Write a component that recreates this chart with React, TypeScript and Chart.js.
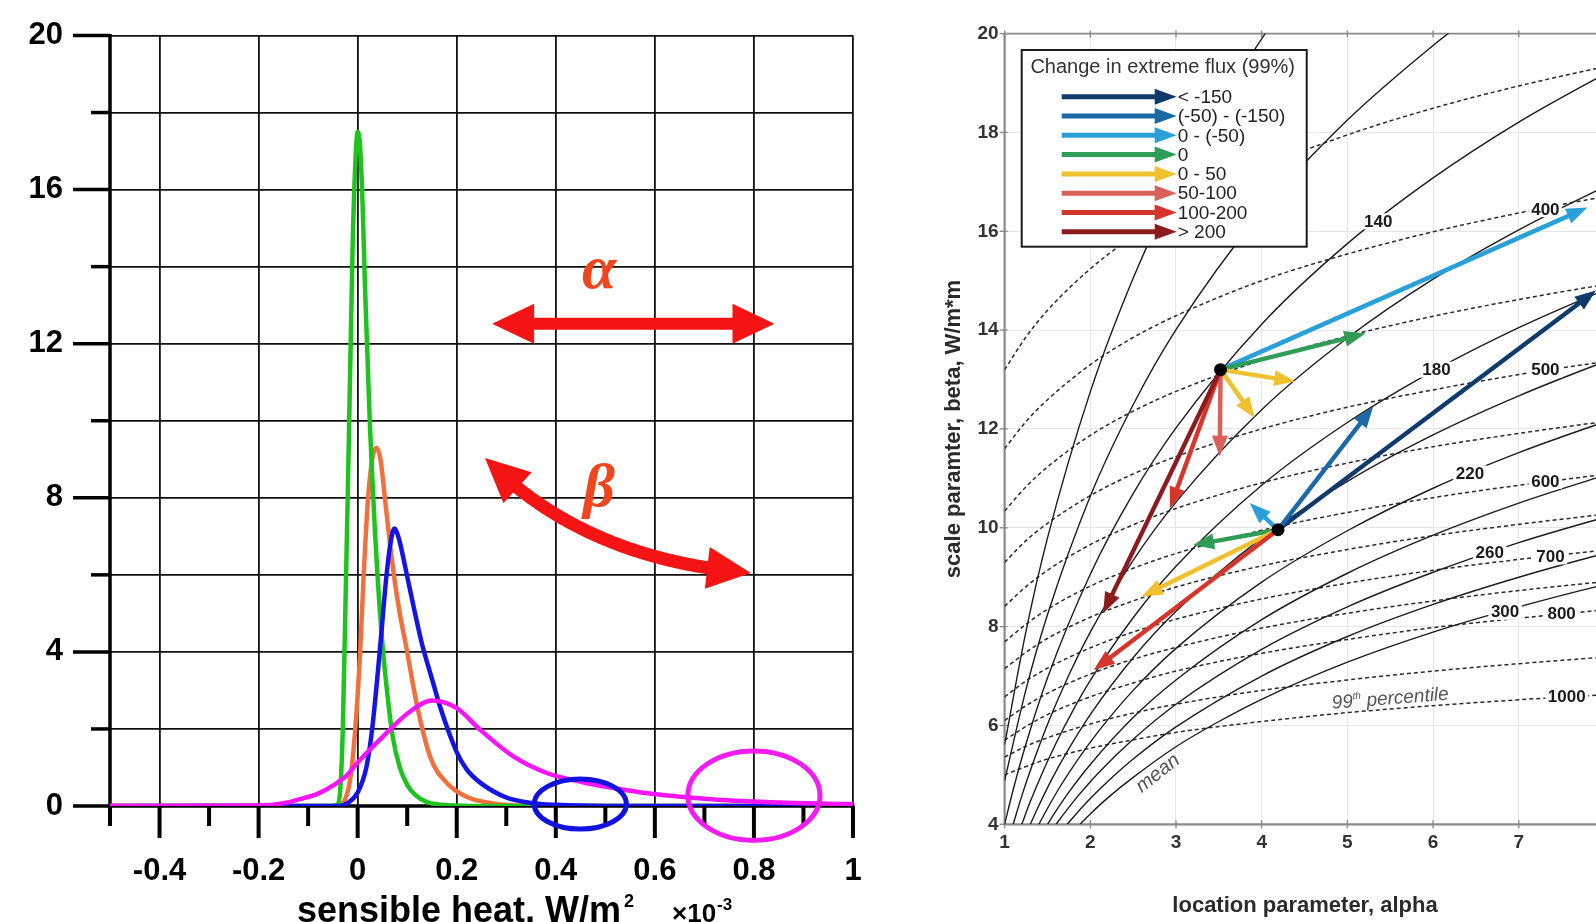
import React, { useEffect, useRef } from 'react';
import { Chart, registerables } from 'chart.js';

Chart.register(...registerables);

const SANS = '"Liberation Sans", Arial, Helvetica, sans-serif';
const SERIF = '"Liberation Serif", "Times New Roman", serif';

/* ================= LEFT PANEL: densities of sensible heat ================= */
const LEFT_X_TICKS = [-0.5, -0.4, -0.3, -0.2, -0.1, 0, 0.1, 0.2, 0.3, 0.4, 0.5, 0.6, 0.7, 0.8, 0.9, 1.0];
const LEFT_Y_TICKS = [0, 2, 4, 6, 8, 10, 12, 14, 16, 18, 20];

const GREEN_X = [-0.5, -0.06, -0.04, -0.035, -0.03, -0.025, -0.02, -0.015, -0.01, -0.005, 0, 0.005, 0.01, 0.015, 0.02, 0.025, 0.03, 0.035, 0.04, 0.05, 0.06, 0.07, 0.085, 0.1, 0.115, 0.14, 0.18, 0.25, 1.0];
const GREEN_Y = [0, 0, 0.05, 0.45, 2.0, 5.0, 8.1, 11.4, 14.6, 16.6, 17.5, 17.1, 15.6, 13.4, 11.6, 9.8, 8.4, 7.1, 6.0, 4.2, 2.9, 1.85, 1.0, 0.55, 0.3, 0.1, 0.02, 0, 0];

const ORANGE_X = [-0.5, -0.04, -0.028, -0.015, -0.005, 0.005, 0.012, 0.021, 0.03, 0.038, 0.046, 0.055, 0.064, 0.0735, 0.085, 0.097, 0.12, 0.147, 0.18, 0.22, 0.27, 0.32, 0.4, 1.0];
const ORANGE_Y = [0, 0, 0.1, 0.7, 1.97, 3.99, 5.96, 7.99, 9.05, 9.3, 9.0, 7.99, 6.95, 5.96, 5.0, 4.2, 2.6, 1.25, 0.6, 0.24, 0.07, 0.01, 0, 0];

const BLUE_X = [-0.5, -0.035, -0.02, 0, 0.0175, 0.029, 0.0444, 0.058, 0.066, 0.074, 0.083, 0.092, 0.101, 0.115, 0.13, 0.15, 0.167, 0.2, 0.22, 0.248, 0.3, 0.35, 0.4, 0.5, 1.0];
const BLUE_Y = [0, 0, 0.08, 0.35, 1.0, 1.97, 3.99, 5.96, 6.8, 7.2, 6.95, 6.45, 5.9, 5.05, 4.2, 3.3, 2.55, 1.4, 0.95, 0.6, 0.22, 0.08, 0.03, 0, 0];

const MAGENTA_X = [-0.5, -0.2, -0.15, -0.116, -0.08, -0.0486, -0.02, 0, 0.05, 0.1045, 0.15, 0.2, 0.248, 0.315, 0.383, 0.45, 0.52, 0.585, 0.72, 0.854, 1.0];
const MAGENTA_Y = [0, 0.01, 0.07, 0.18, 0.32, 0.54, 0.82, 1.13, 1.79, 2.44, 2.74, 2.54, 1.97, 1.28, 0.85, 0.63, 0.46, 0.33, 0.17, 0.09, 0.05];

/* annotations of the left panel (data coordinates) */
const TAIL_ELLIPSE_CX = [0.4495, 0.8];
const TAIL_ELLIPSE_CY = [0.05, 0.27];
const TAIL_ELLIPSE_RX = [0.093, 0.1334];
const TAIL_ELLIPSE_RY = [0.65, 1.16];
const TAIL_ELLIPSE_COLOR = ['#1212e0', '#f01cf0'];
const ALPHA_ARROW_START = [0.2714, 12.52];
const ALPHA_ARROW_END = [0.8415, 12.52];
const BETA_ARROW_START = [0.257, 9.03];
const BETA_ARROW_CTRL = [0.4557, 6.4];
const BETA_ARROW_END = [0.794, 6.05];
const ALPHA_TEXT_POS = [0.4875, 13.85];
const BETA_TEXT_POS = [0.4875, 8.2];

/* ================= RIGHT PANEL: parameter space ================= */
const R_X_TICKS = [1, 2, 3, 4, 5, 6, 7, 8];
const R_Y_TICKS = [4, 6, 8, 10, 12, 14, 16, 18, 20];

// mean iso-lines (solid)
const MEAN_100_A = [1, 1.25, 1.5, 2, 2.5, 3, 3.5, 4.04, 4.3];
const MEAN_100_B = [5.61, 7.91, 9.79, 12.75, 15.05, 16.93, 18.52, 20.0, 20.64];
const MEAN_120_A = [1, 1.25, 1.5, 2, 2.5, 3, 4, 5, 6, 6.5];
const MEAN_120_B = [4.88, 6.73, 8.24, 10.64, 12.49, 14.01, 16.4, 18.25, 19.76, 20.43];
const MEAN_140_A = [1, 1.1, 1.25, 1.5, 2, 2.5, 3, 4, 5, 6, 7, 8, 8.3];
const MEAN_140_B = [4, 4.7, 5.63, 6.96, 9.06, 10.69, 12.02, 14.12, 15.75, 17.08, 18.21, 19.18, 19.45];
const MEAN_160_A = [1.1, 1.2, 1.35, 1.5, 1.75, 2, 2.5, 3, 4, 5, 6, 7, 8, 8.3];
const MEAN_160_B = [4, 4.57, 5.33, 6.02, 7.02, 7.89, 9.34, 10.52, 12.39, 13.84, 15.03, 16.03, 16.9, 17.14];
const MEAN_180_A = [1.2, 1.3, 1.45, 1.6, 1.8, 2, 2.5, 3, 4, 5, 6, 7, 8, 8.3];
const MEAN_180_B = [4, 4.46, 5.08, 5.64, 6.31, 6.91, 8.18, 9.22, 10.86, 12.13, 13.17, 14.05, 14.81, 15.02];
const MEAN_200_A = [1.3, 1.4, 1.55, 1.75, 2, 2.5, 3, 4, 5, 6, 7, 8, 8.3];
const MEAN_200_B = [4, 4.38, 4.91, 5.53, 6.22, 7.37, 8.31, 9.79, 10.94, 11.88, 12.67, 13.36, 13.55];
const MEAN_220_A = [1.4, 1.5, 1.65, 1.85, 2.1, 2.5, 3, 4, 5, 6, 7, 8, 8.3];
const MEAN_220_B = [4, 4.32, 4.77, 5.3, 5.89, 6.71, 7.56, 8.9, 9.94, 10.8, 11.52, 12.14, 12.31];
const MEAN_240_A = [1.5, 1.6, 1.75, 2, 2.5, 3, 4, 5, 6, 7, 8, 8.3];
const MEAN_240_B = [4, 4.27, 4.65, 5.21, 6.16, 6.92, 8.14, 9.08, 9.85, 10.5, 11.06, 11.22];
const MEAN_260_A = [1.6, 1.7, 1.85, 2.1, 2.5, 3, 4, 5, 6, 7, 8, 8.3];
const MEAN_260_B = [4, 4.23, 4.56, 5.05, 5.72, 6.43, 7.54, 8.4, 9.1, 9.7, 10.21, 10.35];
const MEAN_280_A = [1.73, 1.83, 2, 2.25, 2.5, 3, 4, 5, 6, 7, 8, 8.3];
const MEAN_280_B = [4, 4.2, 4.52, 4.94, 5.32, 5.97, 7.0, 7.8, 8.45, 9.0, 9.48, 9.61];
const MEAN_300_A = [1.88, 2, 2.2, 2.5, 3, 3.5, 4, 5, 6, 7, 8, 8.3];
const MEAN_300_B = [4, 4.21, 4.53, 4.95, 5.57, 6.08, 6.53, 7.28, 7.89, 8.4, 8.85, 8.97];

// 99th percentile iso-lines (dashed)
const P99_ALPHA = [1, 1.25, 1.5, 2, 2.5, 3, 4, 5, 6, 7, 8, 8.3];
const P99_350 = [13.2, 13.86, 14.4, 15.24, 15.9, 16.44, 17.29, 17.95, 18.49, 18.94, 19.33, 19.44];
const P99_400 = [11.6, 12.15, 12.59, 13.3, 13.85, 14.29, 15.0, 15.54, 15.99, 16.37, 16.7, 16.79];
const P99_450 = [10.34, 10.83, 11.23, 11.87, 12.36, 12.76, 13.39, 13.88, 14.28, 14.62, 14.92, 15.0];
const P99_500 = [9.3, 9.74, 10.09, 10.65, 11.09, 11.44, 12.0, 12.44, 12.79, 13.1, 13.36, 13.43];
const P99_550 = [8.41, 8.81, 9.14, 9.66, 10.06, 10.39, 10.91, 11.31, 11.64, 11.91, 12.15, 12.22];
const P99_600 = [7.69, 8.05, 8.35, 8.82, 9.18, 9.48, 9.95, 10.31, 10.61, 10.86, 11.08, 11.14];
const P99_650 = [7.15, 7.48, 7.76, 8.19, 8.52, 8.8, 9.23, 9.56, 9.84, 10.07, 10.27, 10.32];
const P99_700 = [6.58, 6.9, 7.16, 7.57, 7.89, 8.15, 8.56, 8.88, 9.14, 9.36, 9.55, 9.61];
const P99_750 = [6.1, 6.4, 6.65, 7.04, 7.34, 7.58, 7.97, 8.27, 8.52, 8.73, 8.91, 8.96];
const P99_800 = [5.7, 5.98, 6.22, 6.58, 6.86, 7.1, 7.46, 7.74, 7.98, 8.17, 8.34, 8.39];
const P99_900 = [5.36, 5.58, 5.75, 6.03, 6.25, 6.43, 6.71, 6.92, 7.1, 7.25, 7.38, 7.41];
const P99_1000 = [5.0, 5.17, 5.32, 5.54, 5.71, 5.86, 6.08, 6.26, 6.4, 6.52, 6.62, 6.65];

// contour labels
const CONTOUR_LABELS = ['140', '180', '220', '260', '300', '400', '500', '600', '700', '800', '1000'];
const CONTOUR_LABEL_A = [5.36, 6.04, 6.43, 6.66, 6.84, 7.31, 7.31, 7.31, 7.37, 7.5, 7.56];
const CONTOUR_LABEL_B = [16.2, 13.2, 11.1, 9.5, 8.3, 16.45, 13.2, 10.95, 9.42, 8.26, 6.58];

// two reference states and their change arrows
const DOTS_A = [3.52, 4.19];
const DOTS_B = [13.2, 9.96];
const ARROW_FROM = [0, 0, 0, 0, 0, 0, 0, 1, 1, 1, 1, 1, 1];
const ARROW_TO_A = [7.8, 5.21, 4.39, 3.92, 3.51, 2.93, 2.15, 7.9, 5.3, 3.86, 3.2, 2.6, 2.04];
const ARROW_TO_B = [16.48, 13.93, 12.96, 12.22, 11.44, 10.4, 8.27, 14.8, 12.45, 10.5, 9.65, 8.61, 7.12];
const ARROW_CLASS = [2, 3, 4, 4, 5, 6, 7, 0, 1, 2, 3, 4, 6];

const LEGEND_TITLE = 'Change in extreme flux (99%)';
const LEGEND_LABELS = ['< -150', '(-50) - (-150)', '0 - (-50)', '0', '0 - 50', '50-100', '100-200', '> 200'];
const LEGEND_COLORS = ['#0f3a6a', '#1b6aa6', '#2aa0d8', '#2f9d55', '#f0c12e', '#d8625a', '#d6352c', '#8b1c1e'];

/* ================= drawing helpers ================= */
function head(ctx: any, tx: number, ty: number, ang: number, len: number, half: number, color: string) {
  const bx = tx - len * Math.cos(ang);
  const by = ty - len * Math.sin(ang);
  ctx.beginPath();
  ctx.moveTo(tx, ty);
  ctx.lineTo(bx + half * Math.sin(ang), by - half * Math.cos(ang));
  ctx.lineTo(bx - half * Math.sin(ang), by + half * Math.cos(ang));
  ctx.closePath();
  ctx.fillStyle = color;
  ctx.fill();
}

function arrow(ctx: any, x1: number, y1: number, x2: number, y2: number, color: string, w: number, len: number, half: number) {
  const ang = Math.atan2(y2 - y1, x2 - x1);
  const d = Math.hypot(x2 - x1, y2 - y1);
  const l = Math.min(len, d * 0.75);
  ctx.beginPath();
  ctx.moveTo(x1, y1);
  ctx.lineTo(x2 - l * 0.8 * Math.cos(ang), y2 - l * 0.8 * Math.sin(ang));
  ctx.strokeStyle = color;
  ctx.lineWidth = w;
  ctx.lineCap = 'butt';
  ctx.stroke();
  head(ctx, x2, y2, ang, l, half, color);
}

function doubleArrow(ctx: any, x1: number, y1: number, x2: number, y2: number, color: string, w: number, len: number, half: number) {
  const ang = Math.atan2(y2 - y1, x2 - x1);
  ctx.beginPath();
  ctx.moveTo(x1 + len * 0.8 * Math.cos(ang), y1 + len * 0.8 * Math.sin(ang));
  ctx.lineTo(x2 - len * 0.8 * Math.cos(ang), y2 - len * 0.8 * Math.sin(ang));
  ctx.strokeStyle = color;
  ctx.lineWidth = w;
  ctx.stroke();
  head(ctx, x2, y2, ang, len, half, color);
  head(ctx, x1, y1, ang + Math.PI, len, half, color);
}

function curvedDoubleArrow(ctx: any, p0: number[], c: number[], p2: number[], color: string, w: number, len: number, half: number) {
  const pts: number[][] = [];
  for (let i = 0; i <= 200; i++) {
    const t = i / 200;
    const u = 1 - t;
    pts.push([u * u * p0[0] + 2 * u * t * c[0] + t * t * p2[0], u * u * p0[1] + 2 * u * t * c[1] + t * t * p2[1]]);
  }
  const cum = [0];
  for (let i = 1; i < pts.length; i++) cum.push(cum[i - 1] + Math.hypot(pts[i][0] - pts[i - 1][0], pts[i][1] - pts[i - 1][1]));
  const L = cum[cum.length - 1];
  const idxAt = (d: number) => {
    let i = 0;
    while (i < cum.length - 1 && cum[i] < d) i++;
    return i;
  };
  const iS = idxAt(len * 0.8);
  const iE = idxAt(L - len * 0.8);
  ctx.beginPath();
  ctx.moveTo(pts[iS][0], pts[iS][1]);
  for (let i = iS + 1; i <= iE; i++) ctx.lineTo(pts[i][0], pts[i][1]);
  ctx.strokeStyle = color;
  ctx.lineWidth = w;
  ctx.lineJoin = 'round';
  ctx.stroke();
  const hS = pts[idxAt(len)];
  const hE = pts[idxAt(L - len)];
  head(ctx, p0[0], p0[1], Math.atan2(p0[1] - hS[1], p0[0] - hS[0]), len, half, color);
  head(ctx, p2[0], p2[1], Math.atan2(p2[1] - hE[1], p2[0] - hE[0]), len, half, color);
}

const isMajorX = (v: number) => v > -0.45 && Math.abs(Math.round(v * 10)) % 2 === 0;
const mk = (xs: number[], ys: number[]) => xs.map((x, i) => ({ x, y: ys[i] }));

/* ================= left chart ================= */
const leftPlugin = {
  id: 'leftDecor',
  beforeDatasetsDraw(chart: any) {
    const { ctx, scales } = chart;
    const x = scales.x;
    const y = scales.y;
    const x0 = x.getPixelForValue(-0.5);
    const x1 = x.getPixelForValue(1.0);
    const y0 = y.getPixelForValue(0);
    const y1 = y.getPixelForValue(20);
    ctx.save();
    ctx.strokeStyle = '#000';
    ctx.lineCap = 'butt';
    ctx.lineWidth = 3.5;
    ctx.beginPath();
    ctx.moveTo(x0, y1 - 1.5);
    ctx.lineTo(x0, y0);
    ctx.stroke();
    ctx.beginPath();
    ctx.moveTo(x0 - 1.5, y0);
    ctx.lineTo(x1 + 1.5, y0);
    ctx.stroke();
    for (const v of LEFT_Y_TICKS) {
      const py = y.getPixelForValue(v);
      const len = v % 4 === 0 ? 37 : 19;
      ctx.lineWidth = 3.5;
      ctx.beginPath();
      ctx.moveTo(x0 - len, py);
      ctx.lineTo(x0, py);
      ctx.stroke();
    }
    for (const v of LEFT_X_TICKS) {
      const px = x.getPixelForValue(v);
      const len = isMajorX(v) ? 32 : 20;
      ctx.lineWidth = 4;
      ctx.beginPath();
      ctx.moveTo(px, y0);
      ctx.lineTo(px, y0 + len);
      ctx.stroke();
    }
    ctx.restore();
  },
  afterDatasetsDraw(chart: any) {
    const { ctx, scales } = chart;
    const px = (v: number) => scales.x.getPixelForValue(v);
    const py = (v: number) => scales.y.getPixelForValue(v);
    ctx.save();
    for (let i = 0; i < TAIL_ELLIPSE_CX.length; i++) {
      const cx = px(TAIL_ELLIPSE_CX[i]);
      const cy = py(TAIL_ELLIPSE_CY[i]);
      const rx = Math.abs(px(TAIL_ELLIPSE_CX[i] + TAIL_ELLIPSE_RX[i]) - cx);
      const ry = Math.abs(py(TAIL_ELLIPSE_CY[i] + TAIL_ELLIPSE_RY[i]) - cy);
      ctx.beginPath();
      ctx.ellipse(cx, cy, rx, ry, 0, 0, Math.PI * 2);
      ctx.lineWidth = 5;
      ctx.strokeStyle = TAIL_ELLIPSE_COLOR[i];
      ctx.stroke();
    }
    const red = '#f41414';
    doubleArrow(ctx, px(ALPHA_ARROW_START[0]), py(ALPHA_ARROW_START[1]), px(ALPHA_ARROW_END[0]), py(ALPHA_ARROW_END[1]), red, 12, 42, 20);
    curvedDoubleArrow(
      ctx,
      [px(BETA_ARROW_START[0]), py(BETA_ARROW_START[1])],
      [px(BETA_ARROW_CTRL[0]), py(BETA_ARROW_CTRL[1])],
      [px(BETA_ARROW_END[0]), py(BETA_ARROW_END[1])],
      red, 13, 44, 21
    );
    ctx.fillStyle = '#f0461e';
    ctx.textAlign = 'center';
    ctx.textBaseline = 'middle';
    ctx.font = `italic bold 62px ${SERIF}`;
    ctx.fillText('α', px(ALPHA_TEXT_POS[0]), py(ALPHA_TEXT_POS[1]));
    ctx.fillText('β', px(BETA_TEXT_POS[0]), py(BETA_TEXT_POS[1]));
    ctx.restore();
  },
  afterDraw(chart: any) {
    const { ctx } = chart;
    ctx.save();
    ctx.fillStyle = '#000';
    ctx.textBaseline = 'alphabetic';
    ctx.textAlign = 'left';
    const base = 922;
    ctx.font = `bold 36px ${SANS}`;
    const main = 'sensible heat, W/m';
    ctx.fillText(main, 297, base);
    const mw = ctx.measureText(main).width;
    ctx.font = `bold 18px ${SANS}`;
    ctx.fillText('2', 297 + mw + 3, base - 15);
    ctx.font = `bold 26px ${SANS}`;
    ctx.fillText('×10', 672, base);
    const xw = ctx.measureText('×10').width;
    ctx.font = `bold 17px ${SANS}`;
    ctx.fillText('-3', 672 + xw + 1, base - 12);
    ctx.restore();
  },
};

function leftConfig(): any {
  const line = (label: string, xs: number[], ys: number[], color: string, order: number) => ({
    label,
    data: mk(xs, ys),
    borderColor: color,
    borderWidth: 4.5,
    pointRadius: 0,
    fill: false,
    cubicInterpolationMode: 'monotone',
    order,
  });
  const tickFont = { family: SANS, size: 31, weight: 'bold' };
  return {
    type: 'line',
    data: {
      datasets: [
        line('green', GREEN_X, GREEN_Y, '#1ec31e', 2),
        line('orange', ORANGE_X, ORANGE_Y, '#f2703e', 3),
        line('blue', BLUE_X, BLUE_Y, '#1414e6', 1),
        line('magenta', MAGENTA_X, MAGENTA_Y, '#f515f5', 0),
      ],
    },
    options: {
      animation: false,
      responsive: false,
      devicePixelRatio: 1,
      events: [],
      layout: { padding: { top: 35.5, right: 27, left: 0, bottom: 0 } },
      plugins: { legend: { display: false }, tooltip: { enabled: false } },
      scales: {
        x: {
          type: 'linear',
          min: -0.5,
          max: 1.0,
          afterBuildTicks: (s: any) => {
            s.ticks = LEFT_X_TICKS.map((v) => ({ value: v }));
          },
          afterFit: (s: any) => {
            s.height = 116;
          },
          border: { display: false },
          grid: {
            drawTicks: true,
            tickLength: 47,
            tickColor: 'rgba(0,0,0,0)',
            color: (c: any) => (isMajorX(c.tick.value) ? '#111' : 'rgba(0,0,0,0)'),
            lineWidth: (c: any) => (isMajorX(c.tick.value) ? 1.8 : 0),
          },
          ticks: {
            autoSkip: false,
            maxRotation: 0,
            padding: 0,
            color: '#000',
            font: tickFont,
            callback: (v: number) =>
              isMajorX(v) ? (Math.abs(v) < 1e-9 ? '0' : Math.abs(v - 1) < 1e-9 ? '1' : v.toFixed(1)) : '',
          },
        },
        y: {
          type: 'linear',
          min: 0,
          max: 20,
          afterBuildTicks: (s: any) => {
            s.ticks = LEFT_Y_TICKS.map((v) => ({ value: v }));
          },
          afterFit: (s: any) => {
            s.width = 110;
          },
          border: { display: false },
          grid: {
            drawTicks: true,
            tickLength: 47,
            tickColor: 'rgba(0,0,0,0)',
            color: (c: any) => (c.tick.value === 0 ? 'rgba(0,0,0,0)' : '#111'),
            lineWidth: (c: any) => (c.tick.value === 0 ? 0 : 1.8),
          },
          ticks: {
            padding: 0,
            color: '#000',
            font: tickFont,
            callback: (v: number) => (v % 4 === 0 ? String(v) : ''),
          },
        },
      },
    },
    plugins: [leftPlugin],
  };
}

/* ================= right chart ================= */
const MEAN_SERIES = [
  [MEAN_100_A, MEAN_100_B], [MEAN_120_A, MEAN_120_B], [MEAN_140_A, MEAN_140_B], [MEAN_160_A, MEAN_160_B],
  [MEAN_180_A, MEAN_180_B], [MEAN_200_A, MEAN_200_B], [MEAN_220_A, MEAN_220_B], [MEAN_240_A, MEAN_240_B],
  [MEAN_260_A, MEAN_260_B], [MEAN_280_A, MEAN_280_B], [MEAN_300_A, MEAN_300_B],
];
const P99_SERIES = [P99_350, P99_400, P99_450, P99_500, P99_550, P99_600, P99_650, P99_700, P99_750, P99_800, P99_900, P99_1000];
const DOTS_INDEX = MEAN_SERIES.length + P99_SERIES.length;

const rightPlugin = {
  id: 'rightDecor',
  beforeDatasetsDraw(chart: any) {
    const { ctx, scales } = chart;
    const x = scales.x;
    const y = scales.y;
    const x0 = x.getPixelForValue(1);
    const y0 = y.getPixelForValue(4);
    const yTop = y.getPixelForValue(20);
    const xR = chart.width;
    ctx.save();
    ctx.strokeStyle = '#8a8a8a';
    ctx.lineWidth = 1.6;
    ctx.beginPath();
    ctx.moveTo(x0, yTop);
    ctx.lineTo(xR, yTop);
    ctx.stroke();
    ctx.lineWidth = 2.2;
    ctx.beginPath();
    ctx.moveTo(x0, yTop);
    ctx.lineTo(x0, y0);
    ctx.lineTo(xR, y0);
    ctx.stroke();
    ctx.lineWidth = 1.4;
    for (const v of R_X_TICKS) {
      const px = x.getPixelForValue(v);
      ctx.beginPath();
      ctx.moveTo(px, y0 - 4);
      ctx.lineTo(px, y0 + 4);
      ctx.moveTo(px, yTop - 3);
      ctx.lineTo(px, yTop + 4);
      ctx.stroke();
    }
    for (const v of R_Y_TICKS) {
      const py = y.getPixelForValue(v);
      ctx.beginPath();
      ctx.moveTo(x0 - 5, py);
      ctx.lineTo(x0 + 3, py);
      ctx.stroke();
    }
    ctx.restore();
  },
  beforeDatasetDraw(chart: any, args: any) {
    if (args.index !== DOTS_INDEX) return;
    const { ctx, scales, chartArea } = chart;
    const px = (v: number) => scales.x.getPixelForValue(v);
    const py = (v: number) => scales.y.getPixelForValue(v);
    ctx.save();
    // contour labels
    ctx.font = `bold 17px ${SANS}`;
    ctx.textAlign = 'center';
    ctx.textBaseline = 'middle';
    for (let i = 0; i < CONTOUR_LABELS.length; i++) {
      const lx = px(CONTOUR_LABEL_A[i]);
      const ly = py(CONTOUR_LABEL_B[i]);
      const w = ctx.measureText(CONTOUR_LABELS[i]).width + 5;
      ctx.fillStyle = '#fff';
      ctx.fillRect(lx - w / 2, ly - 8, w, 16);
      ctx.fillStyle = '#1a1a1a';
      ctx.fillText(CONTOUR_LABELS[i], lx, ly + 1);
    }
    // "mean"
    ctx.save();
    ctx.translate(px(2.79), py(5.03));
    ctx.rotate((-38 * Math.PI) / 180);
    ctx.font = `italic 20px ${SANS}`;
    ctx.fillStyle = '#555';
    ctx.fillText('mean', 0, 0);
    ctx.restore();
    // "99th percentile"
    ctx.save();
    ctx.translate(px(5.5), py(6.55));
    ctx.rotate((-4.5 * Math.PI) / 180);
    ctx.fillStyle = '#555';
    ctx.textAlign = 'left';
    ctx.textBaseline = 'alphabetic';
    const segs = [
      { t: '99', f: `italic 19px ${SANS}`, dy: 0 },
      { t: 'th', f: `italic 10px ${SANS}`, dy: -8 },
      { t: ' percentile', f: `italic 19px ${SANS}`, dy: 0 },
    ];
    let tot = 0;
    const ws = segs.map((s) => {
      ctx.font = s.f;
      const w = ctx.measureText(s.t).width;
      tot += w;
      return w;
    });
    let sx = -tot / 2;
    segs.forEach((s, i) => {
      ctx.font = s.f;
      ctx.fillText(s.t, sx, 6 + s.dy);
      sx += ws[i];
    });
    ctx.restore();
    // legend
    const bx = chartArea.left + 17.1;
    const by = chartArea.top + 16.4;
    const bw = 285;
    const bh = 196.7;
    ctx.fillStyle = '#fff';
    ctx.fillRect(bx, by, bw, bh);
    ctx.strokeStyle = '#1a1a1a';
    ctx.lineWidth = 2;
    ctx.strokeRect(bx, by, bw, bh);
    ctx.fillStyle = '#333';
    ctx.font = `20px ${SANS}`;
    ctx.textAlign = 'center';
    ctx.textBaseline = 'middle';
    ctx.fillText(LEGEND_TITLE, bx + 141, by + 17);
    ctx.textAlign = 'left';
    ctx.font = `19px ${SANS}`;
    for (let i = 0; i < LEGEND_LABELS.length; i++) {
      const yy = by + 46.7 + i * 19.3;
      arrow(ctx, bx + 40, yy, bx + 155, yy, LEGEND_COLORS[i], 5, 22, 8);
      ctx.fillStyle = '#222';
      ctx.fillText(LEGEND_LABELS[i], bx + 156, yy + 1);
    }
    // change arrows
    for (let i = 0; i < ARROW_TO_A.length; i++) {
      const f = ARROW_FROM[i];
      arrow(ctx, px(DOTS_A[f]), py(DOTS_B[f]), px(ARROW_TO_A[i]), py(ARROW_TO_B[i]), LEGEND_COLORS[ARROW_CLASS[i]], 4.5, 21, 8);
    }
    ctx.restore();
  },
  afterDraw(chart: any) {
    const { ctx } = chart;
    ctx.save();
    ctx.fillStyle = '#2b2b2b';
    ctx.font = `bold 22px ${SANS}`;
    ctx.textAlign = 'center';
    ctx.textBaseline = 'middle';
    ctx.fillText('location parameter, alpha', 425, 906);
    ctx.translate(74, 429);
    ctx.rotate(-Math.PI / 2);
    ctx.fillText('scale paramter, beta, W/m*m', 0, 0);
    ctx.restore();
  },
};

function rightConfig(): any {
  const datasets: any[] = [];
  MEAN_SERIES.forEach(([a, b], i) => {
    datasets.push({
      label: 'mean ' + i,
      data: mk(a, b),
      borderColor: '#1c1c1c',
      borderWidth: 1.4,
      pointRadius: 0,
      fill: false,
      cubicInterpolationMode: 'monotone',
      order: 5,
    });
  });
  P99_SERIES.forEach((b, i) => {
    datasets.push({
      label: 'p99 ' + i,
      data: mk(P99_ALPHA, b),
      borderColor: '#2a2a2a',
      borderWidth: 1.5,
      borderDash: [4, 3],
      pointRadius: 0,
      fill: false,
      cubicInterpolationMode: 'monotone',
      order: 5,
    });
  });
  datasets.push({
    type: 'scatter',
    label: 'states',
    data: mk(DOTS_A, DOTS_B),
    showLine: false,
    pointRadius: 6.5,
    pointBackgroundColor: '#000',
    pointBorderColor: '#000',
    borderWidth: 0,
    order: 0,
  });
  const tickFont = { family: SANS, size: 19, weight: 'bold' };
  return {
    type: 'line',
    data: { datasets },
    options: {
      animation: false,
      responsive: false,
      devicePixelRatio: 1,
      events: [],
      layout: { padding: { top: 33.6, right: 9.8, left: 0, bottom: 0 } },
      plugins: { legend: { display: false }, tooltip: { enabled: false } },
      scales: {
        x: {
          type: 'linear',
          min: 1,
          max: 8.3,
          afterBuildTicks: (s: any) => {
            s.ticks = R_X_TICKS.map((v) => ({ value: v }));
          },
          afterFit: (s: any) => {
            s.height = 97.7;
          },
          border: { display: false },
          grid: { drawTicks: false, color: '#e6e6e6', lineWidth: 1 },
          ticks: { autoSkip: false, maxRotation: 0, padding: 7, color: '#333', font: tickFont },
        },
        y: {
          type: 'linear',
          min: 4,
          max: 20,
          afterBuildTicks: (s: any) => {
            s.ticks = R_Y_TICKS.map((v) => ({ value: v }));
          },
          afterFit: (s: any) => {
            s.width = 124.6;
          },
          border: { display: false },
          grid: { drawTicks: false, color: '#e6e6e6', lineWidth: 1 },
          ticks: { padding: 6, color: '#333', font: tickFont },
        },
      },
    },
    plugins: [rightPlugin],
  };
}

export default function App() {
  const leftRef = useRef<HTMLCanvasElement>(null);
  const rightRef = useRef<HTMLCanvasElement>(null);
  useEffect(() => {
    const c1 = new Chart(leftRef.current as HTMLCanvasElement, leftConfig());
    const c2 = new Chart(rightRef.current as HTMLCanvasElement, rightConfig());
    return () => {
      c1.destroy();
      c2.destroy();
    };
  }, []);
  return (
    <div style={{ position: 'fixed', left: 0, top: 0, width: 1596, height: 922, overflow: 'hidden', background: '#fff' }}>
      <div style={{ position: 'absolute', left: 0, top: 0, width: 880, height: 922 }}>
        <canvas ref={leftRef} width={880} height={922} style={{ display: 'block' }} />
      </div>
      <div style={{ position: 'absolute', left: 880, top: 0, width: 760, height: 922 }}>
        <canvas ref={rightRef} width={760} height={922} style={{ display: 'block' }} />
      </div>
    </div>
  );
}
